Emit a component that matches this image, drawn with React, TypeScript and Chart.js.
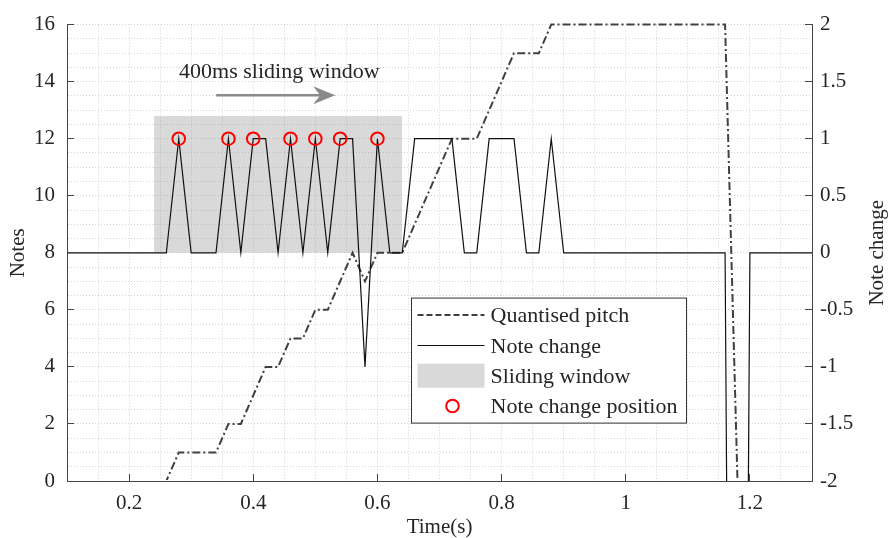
import React, { useEffect, useRef } from 'react';
import { Chart, registerables } from 'chart.js';

Chart.register(...registerables);

// ---------- data ----------
const pitchTime = [0.10, 0.26, 0.28, 0.34, 0.36, 0.38, 0.42, 0.44, 0.46, 0.48, 0.50, 0.52, 0.56, 0.58, 0.60, 0.64, 0.72, 0.76, 0.82, 0.86, 0.88, 1.16, 1.18, 1.30];
const pitchNotes = [0, 0, 1, 1, 2, 2, 4, 4, 5, 5, 6, 6, 8, 7, 8, 8, 12, 12, 15, 15, 16, 16, 0, 0];

const changeTime = [0.10, 0.26, 0.28, 0.30, 0.34, 0.36, 0.38, 0.40, 0.42, 0.44, 0.46, 0.48, 0.50, 0.52, 0.54, 0.56, 0.58, 0.60, 0.62, 0.64, 0.66, 0.72, 0.74, 0.76, 0.78, 0.82, 0.84, 0.86, 0.88, 0.90, 1.16, 1.18, 1.20, 1.30];
const changeValue = [0, 0, 1, 0, 0, 1, 0, 1, 1, 0, 1, 0, 1, 0, 1, 1, -1, 1, 0, 0, 1, 1, 0, 0, 1, 1, 0, 0, 1, 0, 0, -16, 0, 0];

const changePosTime = [0.28, 0.36, 0.40, 0.46, 0.50, 0.54, 0.60];
const changePosValue = [1, 1, 1, 1, 1, 1, 1];

const windowTime = [0.24, 0.64];
const windowHeight = [1.2, 1.2];

const xMajorTicks = [0.2, 0.4, 0.6, 0.8, 1.0, 1.2];
const xTickLabels = ['0.2', '0.4', '0.6', '0.8', '1', '1.2'];
const notesTicks = [0, 2, 4, 6, 8, 10, 12, 14, 16];
const notesTickLabels = ['0', '2', '4', '6', '8', '10', '12', '14', '16'];
const changeTicks = [-2, -1.5, -1, -0.5, 0, 0.5, 1, 1.5, 2];
const changeTickLabels = ['-2', '-1.5', '-1', '-0.5', '0', '0.5', '1', '1.5', '2'];

const legendLabels = ['Quantised pitch', 'Note change', 'Sliding window', 'Note change position'];
const annotationText = '400ms sliding window';
const xTitle = 'Time(s)';
const leftTitle = 'Notes';
const rightTitle = 'Note change';

// axis ranges
const X_MIN = 0.1, X_MAX = 1.3, X_MINOR = 0.05;
const NOTES_MIN = 0, NOTES_MAX = 16, NOTES_MINOR = 0.5;
const CHANGE_MIN = -2, CHANGE_MAX = 2;

// ---------- styles ----------
const FONT = "'Liberation Serif', 'Times New Roman', serif";
const TEXT = '#262626';
const AXIS = '#444444';
const GRID = 'rgba(0,0,0,0.17)';
const PITCH_COLOR = '#404040';
const PITCH_DASH = [8, 3, 2, 3];
const CHANGE_COLOR = '#111111';
const WINDOW_FILL = 'rgba(128,128,128,0.3)';
const ARROW_COLOR = '#8a8a8a';
const RED = '#ff0000';

function findLabel(values: number[], labels: string[], v: number) {
  const i = values.findIndex((m) => Math.abs(m - v) < 1e-6);
  return i >= 0 ? labels[i] : '';
}

function minorTicks(min: number, max: number, step: number) {
  const out: { value: number }[] = [];
  const n = Math.round((max - min) / step);
  for (let i = 0; i <= n; i++) out.push({ value: +(min + i * step).toFixed(6) });
  return out;
}

const align = (p: number) => Math.round(p - 0.5) + 0.5;

const overlayPlugin = {
  id: 'overlay',
  afterDraw(chart: any) {
    const { ctx, chartArea: a, scales } = chart;
    const xs = scales.x, yl = scales.yNotes, yr = scales.yChange;
    ctx.save();

    // inward tick marks
    ctx.strokeStyle = AXIS;
    ctx.lineWidth = 1;
    ctx.setLineDash([]);
    ctx.beginPath();
    notesTicks.forEach((v) => {
      const py = align(yl.getPixelForValue(v));
      ctx.moveTo(a.left, py);
      ctx.lineTo(a.left + 7, py);
    });
    changeTicks.forEach((v) => {
      const py = align(yr.getPixelForValue(v));
      ctx.moveTo(a.right, py);
      ctx.lineTo(a.right - 7, py);
    });
    xMajorTicks.forEach((v) => {
      const px = align(xs.getPixelForValue(v));
      ctx.moveTo(px, a.bottom);
      ctx.lineTo(px, a.bottom - 7);
    });
    ctx.stroke();

    // right axis title (reads bottom to top)
    ctx.save();
    ctx.translate(a.right + 71, (a.top + a.bottom) / 2);
    ctx.rotate(-Math.PI / 2);
    ctx.font = `21px ${FONT}`;
    ctx.fillStyle = TEXT;
    ctx.textAlign = 'center';
    ctx.textBaseline = 'alphabetic';
    ctx.fillText(rightTitle, 0, 0);
    ctx.restore();

    // annotation text and arrow
    ctx.font = `22px ${FONT}`;
    ctx.fillStyle = TEXT;
    ctx.textAlign = 'left';
    ctx.textBaseline = 'alphabetic';
    ctx.fillText(annotationText, xs.getPixelForValue(0.2806), yl.getPixelForValue(14.13));

    const ay = yl.getPixelForValue(13.52);
    const ax0 = xs.getPixelForValue(0.3403);
    const ax1 = xs.getPixelForValue(0.532);
    ctx.strokeStyle = ARROW_COLOR;
    ctx.fillStyle = ARROW_COLOR;
    ctx.lineWidth = 2.5;
    ctx.beginPath();
    ctx.moveTo(ax0, ay);
    ctx.lineTo(ax1 - 14, ay);
    ctx.stroke();
    ctx.beginPath();
    ctx.moveTo(ax1, ay);
    ctx.lineTo(ax1 - 22, ay - 9);
    ctx.lineTo(ax1 - 15, ay);
    ctx.lineTo(ax1 - 22, ay + 9);
    ctx.closePath();
    ctx.fill();

    // legend
    const lx = a.left + 344.5, ly = a.top + 273.5, lw = 275, lh = 125;
    ctx.fillStyle = '#ffffff';
    ctx.fillRect(lx, ly, lw, lh);
    ctx.strokeStyle = '#333333';
    ctx.lineWidth = 1;
    ctx.strokeRect(lx, ly, lw, lh);

    const sx0 = lx + 6, sx1 = lx + 73, tx = lx + 79;
    const rowMid = (i: number) => ly + 17 + i * 30.3;
    // row 0 pitch
    ctx.save();
    ctx.strokeStyle = PITCH_COLOR;
    ctx.lineWidth = 2;
    ctx.setLineDash([6, 3]);
    ctx.beginPath();
    ctx.moveTo(sx0, rowMid(0));
    ctx.lineTo(sx1, rowMid(0));
    ctx.stroke();
    ctx.restore();
    // row 1 note change
    ctx.strokeStyle = CHANGE_COLOR;
    ctx.lineWidth = 1;
    ctx.beginPath();
    ctx.moveTo(sx0, align(rowMid(1)));
    ctx.lineTo(sx1, align(rowMid(1)));
    ctx.stroke();
    // row 2 sliding window
    ctx.fillStyle = WINDOW_FILL;
    ctx.fillRect(sx0, rowMid(2) - 12, sx1 - sx0, 24);
    // row 3 circle
    ctx.strokeStyle = RED;
    ctx.lineWidth = 2;
    ctx.beginPath();
    ctx.arc((sx0 + sx1) / 2 + 1.5, rowMid(3), 6.3, 0, Math.PI * 2);
    ctx.stroke();

    ctx.font = `22px ${FONT}`;
    ctx.fillStyle = TEXT;
    ctx.textAlign = 'left';
    ctx.textBaseline = 'alphabetic';
    legendLabels.forEach((t, i) => ctx.fillText(t, tx, rowMid(i) + 7.3));

    ctx.restore();
  },
};

export default function App() {
  const ref = useRef<HTMLCanvasElement>(null);

  useEffect(() => {
    const canvas = ref.current;
    if (!canvas) return;
    const tickFont = { family: FONT, size: 21 };
    const chart = new Chart(canvas, {
      type: 'line',
      data: {
        datasets: [
          {
            label: legendLabels[0],
            data: pitchTime.map((t, i) => ({ x: t, y: pitchNotes[i] })),
            yAxisID: 'yNotes',
            borderColor: PITCH_COLOR,
            borderWidth: 2,
            borderDash: PITCH_DASH,
            pointRadius: 0,
            fill: false,
            tension: 0,
            order: 2,
            clip: { left: 0, top: 2, right: 0, bottom: -1 },
          } as any,
          {
            label: legendLabels[1],
            data: changeTime.map((t, i) => ({ x: t, y: changeValue[i] })),
            yAxisID: 'yChange',
            borderColor: CHANGE_COLOR,
            borderWidth: 1.2,
            pointRadius: 0,
            fill: false,
            tension: 0,
            order: 1,
          },
          {
            label: legendLabels[2],
            data: windowTime.map((t, i) => ({ x: t, y: windowHeight[i] })),
            yAxisID: 'yChange',
            borderColor: 'rgba(0,0,0,0)',
            borderWidth: 1,
            backgroundColor: WINDOW_FILL,
            fill: 'origin',
            pointRadius: 0,
            order: 3,
          },
          {
            label: legendLabels[3],
            data: changePosTime.map((t, i) => ({ x: t, y: changePosValue[i] })),
            yAxisID: 'yChange',
            showLine: false,
            borderColor: RED,
            pointRadius: 6.3,
            pointBorderColor: RED,
            pointBackgroundColor: 'rgba(0,0,0,0)',
            pointBorderWidth: 2,
            order: 0,
          },
        ],
      },
      options: {
        responsive: false,
        animation: false,
        events: [],
        layout: { padding: { top: 19, left: 0, right: 0, bottom: 0 } },
        plugins: {
          legend: { display: false },
          tooltip: { enabled: false },
        },
        scales: {
          x: {
            type: 'linear',
            position: 'bottom',
            min: X_MIN,
            max: X_MAX,
            afterBuildTicks: (s: any) => { s.ticks = minorTicks(X_MIN, X_MAX, X_MINOR); },
            afterFit: (s: any) => { s.height = 57; },
            grid: { color: GRID, lineWidth: 1, drawTicks: false },
            border: { display: true, color: AXIS, width: 1, dash: [1, 2] },
            ticks: {
              autoSkip: false,
              maxRotation: 0,
              padding: 10,
              font: tickFont,
              color: TEXT,
              callback: (v: any) => findLabel(xMajorTicks, xTickLabels, Number(v)),
            },
            title: { display: true, text: xTitle, font: tickFont, color: TEXT, padding: { top: 0, bottom: -2 } },
          },
          yNotes: {
            type: 'linear',
            position: 'left',
            min: NOTES_MIN,
            max: NOTES_MAX,
            afterBuildTicks: (s: any) => { s.ticks = minorTicks(NOTES_MIN, NOTES_MAX, NOTES_MINOR); },
            afterFit: (s: any) => { s.width = 67; },
            grid: { color: GRID, lineWidth: 1, drawTicks: false },
            border: { display: true, color: AXIS, width: 1, dash: [1, 2] },
            ticks: {
              autoSkip: false,
              padding: 12,
              font: tickFont,
              color: TEXT,
              callback: (v: any) => findLabel(notesTicks, notesTickLabels, Number(v)),
            },
            title: { display: true, text: leftTitle, font: tickFont, color: TEXT, padding: { top: 6, bottom: 0 } },
          },
          yChange: {
            type: 'linear',
            position: 'right',
            min: CHANGE_MIN,
            max: CHANGE_MAX,
            afterBuildTicks: (s: any) => { s.ticks = changeTicks.map((v) => ({ value: v })); },
            afterFit: (s: any) => { s.width = 77; },
            grid: { display: false, drawTicks: false },
            border: { display: true, color: AXIS, width: 1 },
            ticks: {
              autoSkip: false,
              padding: 8,
              font: tickFont,
              color: TEXT,
              callback: (v: any) => findLabel(changeTicks, changeTickLabels, Number(v)),
            },
          },
        },
      } as any,
      plugins: [overlayPlugin],
    });
    return () => chart.destroy();
  }, []);

  return (
    <div style={{ position: 'absolute', left: 0, top: 0, width: 889, height: 538 }}>
      <canvas ref={ref} width={889} height={538} style={{ display: 'block', width: 889, height: 538 }} />
    </div>
  );
}
